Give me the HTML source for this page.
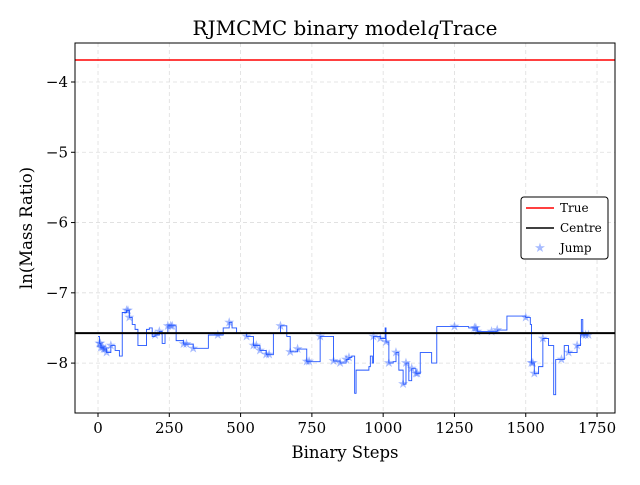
<!DOCTYPE html>
<html><head><meta charset="utf-8"><style>
body{margin:0;background:#fff;}
svg text{font-family:"DejaVu Serif","Liberation Serif",serif;}
</style></head><body>
<svg id="chart" width="640" height="480" xmlns="http://www.w3.org/2000/svg">
<rect width="640" height="480" fill="#fff"/>
<text x="345" y="35" font-size="20" text-anchor="middle">RJMCMC binary model<tspan font-style="italic">q</tspan>Trace</text>
<g id="grid"></g><g id="series"></g><g id="axes"></g>
<text x="345" y="458" font-size="16.5" text-anchor="middle">Binary Steps</text>
<text transform="translate(32,228) rotate(-90)" font-size="16.5" text-anchor="middle">ln(Mass Ratio)</text>
<g>
<rect x="521" y="197" width="87" height="62" rx="3" fill="#fff" stroke="#000" stroke-width="1"/>
<line x1="526" y1="208" x2="554" y2="208" stroke="red" stroke-width="1.5"/>
<text x="560" y="212" font-size="12">True</text>
<line x1="526" y1="228" x2="554" y2="228" stroke="#000" stroke-width="1.5"/>
<text x="560" y="232" font-size="12">Centre</text>
<text x="540" y="252" font-size="13" text-anchor="middle" fill="#2255ff" fill-opacity="0.4">★</text>
<text x="560" y="252" font-size="12">Jump</text>
</g>
</svg>
<script>
const steps=[0,5,10,20,30,45,60,75,85,100,110,120,130,140,160,170,180,190,200,215,225,235,245,274,300,334,387,439,460,470,486,521,545,568,590,615,640,662,674,700,732,779,826,849,870,880,890,900,905,930,950,955,962,966,990,1007,1010,1020,1035,1045,1055,1070,1080,1090,1100,1115,1130,1170,1188,1300,1330,1400,1434,1500,1516,1520,1530,1545,1560,1580,1598,1605,1625,1635,1650,1680,1692,1695,1700,1720];
const values=[-7.62,-7.72,-7.78,-7.8,-7.85,-7.75,-7.82,-7.9,-7.28,-7.25,-7.35,-7.45,-7.52,-7.75,-7.75,-7.52,-7.5,-7.62,-7.6,-7.55,-7.72,-7.58,-7.47,-7.68,-7.73,-7.79,-7.6,-7.5,-7.42,-7.5,-7.58,-7.62,-7.75,-7.82,-7.88,-7.58,-7.47,-7.62,-7.84,-7.8,-7.98,-7.62,-7.97,-8.0,-7.95,-7.92,-7.9,-8.43,-8.1,-8.1,-8.05,-7.9,-8.0,-7.62,-7.65,-7.5,-7.7,-8.0,-7.98,-7.85,-8.1,-8.3,-8.0,-8.25,-8.08,-8.15,-7.85,-8.0,-7.48,-7.5,-7.55,-7.53,-7.33,-7.35,-7.45,-8.0,-8.15,-8.05,-7.65,-7.75,-8.45,-7.95,-7.95,-7.75,-7.85,-7.75,-7.6,-7.38,-7.6,-7.6];
const jumps=[5,8,10,15,20,25,30,45,100,105,110,200,215,245,255,260,300,310,334,420,460,521,545,555,568,590,600,640,674,700,732,740,779,826,849,870,880,966,990,1010,1020,1045,1070,1080,1100,1115,1120,1250,1320,1325,1330,1380,1400,1500,1520,1525,1530,1560,1625,1650,1680,1700,1710,1720];
const xTicks=[0,250,500,750,1000,1250,1500,1750];
const yTicks=[-8,-7,-6,-5,-4];
const trueVal=-3.687, centreVal=-7.573;
const L=75,R=615,T=43,B=413,xmin=-80.7,xmax=1813,ymin=-8.71,ymax=-3.445;
const X=v=>L+(v-xmin)/(xmax-xmin)*(R-L);
const Y=v=>B-(v-ymin)/(ymax-ymin)*(B-T);
const NS='http://www.w3.org/2000/svg';
function mk(t,a,p){const e=document.createElementNS(NS,t);for(const k in a)e.setAttribute(k,a[k]);p.appendChild(e);return e;}
const grid=document.getElementById('grid'),ser=document.getElementById('series'),ax=document.getElementById('axes');
xTicks.forEach(t=>{const x=X(t);
const g=mk('line',{x1:x,x2:x,y1:T,y2:B,stroke:'#ddd','stroke-dasharray':'4,3','stroke-width':0.8},grid);

mk('line',{x1:x,x2:x,y1:B,y2:B+4,stroke:'#000'},ax);
const tx=mk('text',{x:x,y:B+20,'font-size':15,'text-anchor':'middle'},ax);tx.textContent=t;
});
yTicks.forEach(t=>{const y=Y(t);
const g=mk('line',{x1:L,x2:R,y1:y,y2:y,stroke:'#ddd','stroke-dasharray':'4,3','stroke-width':0.8},grid);

mk('line',{x1:L-4,x2:L,y1:y,y2:y,stroke:'#000'},ax);
const tx=mk('text',{x:L-7,y:y+5,'font-size':15,'text-anchor':'end'},ax);tx.textContent='\u2212'+Math.abs(t);
});
const fr=mk('rect',{x:L,y:T,width:R-L,height:B-T,fill:'none',stroke:'#000','stroke-width':1},ax);

let d='';steps.forEach((s,i)=>{d+=(i?'H'+X(s)+'V':'M'+X(s)+','),d+=Y(values[i]);});
d+='H'+X(1720);
const tr=mk('path',{d:d,fill:'none',stroke:'#2255ff','stroke-width':0.9},ser);

function valAt(s){let v=values[0];for(let i=0;i<steps.length;i++){if(steps[i]<=s)v=values[i];}return v;}
jumps.forEach(s=>{const m=mk('text',{x:X(s),y:Y(valAt(s))+4,'font-size':13,'text-anchor':'middle',fill:'#2255ff','fill-opacity':0.4},ser);m.textContent='★';
});
const tl=mk('line',{x1:L,x2:R,y1:Y(trueVal),y2:Y(trueVal),stroke:'red','stroke-width':1.5},ser);

const cl=mk('line',{x1:L,x2:R,y1:Y(centreVal),y2:Y(centreVal),stroke:'#000','stroke-width':2},ser);

</script>
</body></html>
